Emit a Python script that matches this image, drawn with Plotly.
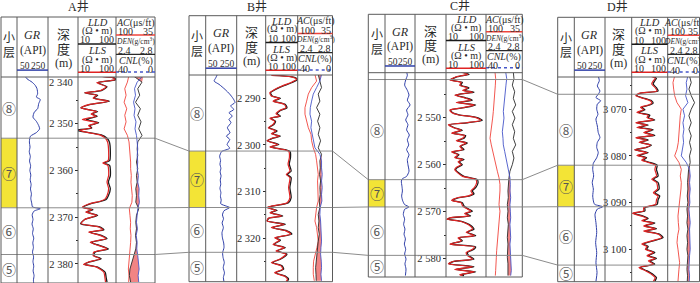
import numpy as np
import plotly.graph_objects as go

W, H = 700, 283

# ======================= DATA =======================
well_names = ["A井", "B井", "C井", "D井"]

# ---- Well A ----
A_gr_depth = [2339.6, 2340.4, 2341.1, 2341.8, 2342.5, 2343.6, 2344.3, 2344.8, 2345.7, 2346.8,
              2347.5, 2348.6, 2349.5, 2350.4, 2351.1, 2351.9, 2352.7, 2353.9, 2355, 2356,
              2357, 2358, 2359, 2360, 2361, 2362, 2363, 2364, 2365, 2366,
              2367, 2367.8, 2368.2, 2368.7, 2369.5, 2370.5, 2371.5, 2372.5, 2373.5, 2374.5,
              2375.5, 2376.5, 2377.5, 2378.5, 2379.5, 2380.5, 2381.5, 2382.5, 2383.5, 2384.2]
A_gr = [97, 115, 147, 168, 179, 183, 175, 200, 190, 183,
        162, 153, 175, 190, 196, 175, 136, 130, 134, 129,
        136, 131, 138, 133, 139, 135, 141, 137, 143, 139,
        145, 150, 200, 160, 148, 153, 147, 155, 150, 158,
        152, 156, 150, 157, 153, 158, 154, 160, 156, 158]
A_rt_depth = [2339.6, 2340.2, 2340.6, 2341.2, 2342.1, 2342.9, 2343.4, 2343.9, 2344.5, 2345.2,
              2345.9, 2346.6, 2347.4, 2347.9, 2348.4, 2349.1, 2349.8, 2350.4, 2350.9, 2351.4,
              2351.8, 2352.4, 2353.1, 2353.9, 2356.1, 2357.9, 2358.4, 2358.9, 2361.1, 2362.5,
              2363.9, 2365.4, 2366.2, 2366.6, 2367.2, 2367.9, 2368.4, 2368.9, 2369.6, 2370.5,
              2371.4, 2372.1, 2372.7, 2373.2, 2373.9, 2374.6, 2375.4, 2375.9, 2376.8, 2377.5,
              2378.2, 2378.9, 2379.6, 2380.1, 2380.7, 2381.8, 2382.9, 2383.9]
A_lld = [13.5, 90, 98, 33, 58, 41, 15, 33, 26, 67,
         20, 12, 33, 23, 32, 16.5, 35, 20, 23, 8.1,
         16.5, 41, 58, 67, 71, 68, 48, 68, 71, 63,
         71, 63, 55, 41, 20, 13.5, 24.6, 16.5, 33, 15,
         11.7, 37, 48, 20, 41, 58, 22, 32, 63, 28,
         26, 41, 20, 15, 33, 52, 55, 58]
A_lls = [13, 85, 92, 31, 55, 39, 15, 31, 25, 63,
         19, 12, 31, 22, 30, 13, 33, 19, 22, 11,
         16, 38, 52, 60, 64, 62, 45, 61, 64, 58,
         64, 58, 50, 38, 19, 13, 23, 16, 31, 15,
         12, 35, 45, 19, 38, 54, 21, 30, 58, 26,
         25, 38, 19, 14, 31, 48, 51, 53]
A_por_depth = [2339.6, 2341.1, 2342.5, 2343.9, 2345.4, 2346.8, 2348.2, 2349.6, 2351.1, 2352.5,
               2353.9, 2355.4, 2356.8, 2358.2, 2359.6, 2361.1, 2362.5, 2363.9, 2365.4, 2366.8,
               2368.2, 2369.6, 2371.1, 2372.5, 2373.9, 2375.4, 2376.8, 2378.2, 2379.6, 2381.1,
               2382.5, 2383.9]
A_ac = [78.3, 81.0, 85.4, 83.2, 86.5, 82.1, 85.4, 83.2, 86.5, 81.0,
        78.3, 77.2, 76.7, 75.6, 75.6, 74.5, 75.1, 73.5, 72.9, 73.5,
        77.8, 76.7, 75.6, 76.2, 75.1, 75.6, 76.7, 77.8, 78.9, 79.4,
        78.3, 78.9]
A_den = [2.567, 2.667, 2.623, 2.643, 2.600, 2.650, 2.623, 2.657, 2.633, 2.667,
         2.623, 2.617, 2.623, 2.610, 2.623, 2.610, 2.617, 2.603, 2.610, 2.603,
         2.633, 2.610, 2.603, 2.610, 2.600, 2.610, 2.603, 2.583, 2.557, 2.543,
         2.537, 2.550]
A_cnl = [11.7, 18.3, 21.0, 20.0, 22.0, 20.5, 21.5, 19.5, 20.5, 19.0,
         18.3, 17.7, 18.3, 17.7, 18.3, 17.0, 17.7, 16.3, 16.7, 16.0,
         17.7, 18.3, 19.0, 18.0, 19.3, 18.3, 18.7, 17.7, 17.0, 16.3,
         17.3, 16.7]
A_depth_ticks = [2340, 2350, 2360, 2370, 2380]
A_minor_ticks = [2345, 2355, 2365, 2375]
A_bound_depth = [2353.1, 2368.0, 2378.0]
A_bound_key = ["8/7", "7/6", "6/5"]
A_layers = ["⑧", "⑦", "⑥", "⑤"]

# ---- Well B ----
B_gr_depth = [2284.9, 2285.6, 2286.3, 2287.0, 2288.1, 2289.1, 2290.0, 2290.9, 2291.6, 2292.4,
              2293.1, 2293.8, 2294.5, 2295.2, 2296.3, 2297.4, 2298.1, 2298.8, 2299.9, 2300.7,
              2301.4, 2302.4, 2303.3, 2304.1, 2305.0, 2305.8, 2306.6, 2307.5, 2308.4, 2309.3,
              2310.2, 2311.0, 2311.8, 2312.6, 2313.1, 2313.4, 2314.1, 2315.0, 2315.8, 2316.7,
              2317.7, 2318.8, 2319.9, 2321.0, 2322.0, 2323.1, 2324.1, 2325.2, 2326.3, 2327.4,
              2328.4, 2329.3]
B_gr = [125, 115, 104, 136, 175, 205, 226, 239, 211, 231,
        200, 222, 200, 213, 190, 207, 183, 205, 188, 205,
        153, 140, 146, 142, 148, 143, 149, 144, 147, 142,
        148, 145, 150, 147, 183, 205, 168, 158, 165, 156,
        164, 155, 158, 166, 168, 159, 162, 170, 163, 171,
        164, 168]
B_rt_depth = [2285.1, 2285.4, 2285.9, 2286.6, 2287.4, 2288.1, 2288.8, 2289.5, 2290.0, 2290.6,
              2291.3, 2292.0, 2292.6, 2293.3, 2293.8, 2294.3, 2294.9, 2295.6, 2296.3, 2297.0,
              2297.6, 2298.1, 2298.6, 2299.1, 2299.9, 2300.4, 2301.0, 2301.4, 2302.7, 2304.1,
              2305.6, 2306.3, 2307.0, 2309.1, 2311.3, 2312.4, 2313.1, 2313.4, 2314.0, 2314.5,
              2315.2, 2315.7, 2316.3, 2317.0, 2317.7, 2318.4, 2319.1, 2319.9, 2320.4, 2321.3,
              2322.0, 2322.7, 2323.4, 2324.5, 2325.2, 2325.9, 2326.6, 2327.4, 2328.1, 2328.8,
              2329.3]
B_lld = [16.0, 68, 99, 68, 34, 20.2, 14.2, 16.0, 28.8, 18.0,
         41.0, 46.1, 28.8, 22.7, 28.8, 14.2, 20.2, 18.0, 12.6, 22.7,
         16.0, 28.8, 16.0, 11.2, 25.6, 14.2, 41.0, 58.3, 59.5, 54.5,
         62.5, 47.2, 62.5, 56.9, 62.5, 51.8, 16.0, 11.2, 22.7, 14.2,
         34.0, 12.6, 11.2, 41.0, 16.0, 46.1, 65.6, 20.2, 28.8, 18.0,
         41.0, 22.7, 46.1, 28.8, 16.0, 32.4, 36.4, 20.2, 41.0, 51.8,
         46.1]
B_lls = [15, 62, 92, 62, 31, 19, 13.5, 15, 27, 17,
         38, 43, 27, 21, 27, 13.5, 19, 17, 12, 21,
         15, 27, 15, 11, 24, 13.5, 38, 53, 55, 50,
         57, 44, 57, 52, 57, 47, 15, 11, 21, 13.5,
         31, 12, 11, 38, 15, 43, 60, 19, 27, 17,
         38, 21, 43, 27, 15, 30, 34, 19, 38, 48,
         43]
B_por_depth = [2284.9, 2286.3, 2287.7, 2289.1, 2290.6, 2292.0, 2293.4, 2294.9, 2296.3, 2297.7,
               2299.1, 2300.6, 2302.0, 2303.4, 2304.9, 2306.3, 2307.7, 2309.1, 2310.6, 2312.0,
               2313.4, 2314.9, 2316.3, 2317.7, 2319.1, 2320.6, 2322.0, 2323.4, 2324.9, 2326.3,
               2327.7, 2329.1]
B_ac = [67.8, 64.7, 74.0, 80.2, 83.3, 86.4, 86.4, 83.3, 80.2, 75.2,
        74.0, 70.9, 66.6, 64.7, 62.9, 61.6, 62.9, 62.9, 61.6, 61.6,
        64.7, 66.6, 67.8, 64.7, 62.9, 61.6, 64.1, 67.8, 70.3, 70.9,
        70.9, 69.0]
B_den = [2.636, 2.655, 2.674, 2.636, 2.655, 2.617, 2.655, 2.629, 2.655, 2.636,
         2.663, 2.636, 2.674, 2.655, 2.659, 2.651, 2.663, 2.655, 2.659, 2.648,
         2.655, 2.636, 2.644, 2.636, 2.648, 2.636, 2.629, 2.621, 2.613, 2.606,
         2.610, 2.613]
B_cnl = [12.6, 14.5, 18.3, 22.1, 24.0, 25.5, 25.9, 24.0, 24.8, 23.2,
         22.1, 20.2, 14.5, 12.6, 12.6, 11.8, 12.6, 11.8, 12.6, 12.2,
         14.1, 14.5, 13.7, 13.3, 13.3, 12.6, 13.3, 13.7, 12.9, 12.6,
         13.3, 12.6]
B_depth_ticks = [2290, 2300, 2310, 2320]
B_minor_ticks = [2295, 2305, 2315, 2325]
B_bound_depth = [2301.3, 2313.4, 2323.0]
B_bound_key = ["8/7", "7/6", "6/5"]
B_layers = ["⑧", "⑦", "⑥", "⑤"]

# ---- Well C ----
C_gr_depth = [2540.3, 2541.0, 2542.0, 2543.1, 2544.2, 2545.2, 2546.3, 2547.3, 2548.4, 2549.4,
              2550.5, 2551.5, 2552.6, 2553.7, 2554.7, 2555.8, 2556.8, 2557.9, 2558.9, 2560.0,
              2561.4, 2562.5, 2563.0, 2563.5, 2564.6, 2565.6, 2566.7, 2567.7, 2568.5, 2569.0,
              2569.5, 2570.6, 2571.6, 2572.7, 2573.7, 2574.8, 2575.8, 2576.9, 2578.0, 2579.0,
              2580.1, 2581.1, 2582.2, 2583.6]
C_gr = [194, 199, 188, 181, 199, 210, 199, 217, 194, 203,
        188, 203, 194, 212, 199, 208, 194, 210, 199, 203,
        210, 194, 166, 159, 163, 166, 161, 168, 181, 210,
        181, 172, 181, 174, 183, 177, 186, 179, 188, 181,
        190, 183, 190, 186]
C_rt_depth = [2540.3, 2540.8, 2541.3, 2542.0, 2542.5, 2543.1, 2543.7, 2544.2, 2544.6, 2545.2,
              2545.8, 2546.3, 2546.8, 2547.3, 2547.9, 2548.4, 2548.9, 2549.4, 2550.0, 2550.6,
              2551.1, 2551.5, 2552.1, 2552.7, 2553.3, 2553.8, 2554.4, 2554.9, 2555.4, 2556.1,
              2556.8, 2557.3, 2557.9, 2558.5, 2558.9, 2559.4, 2560.0, 2560.6, 2561.1, 2561.8,
              2562.5, 2563.2, 2563.9, 2564.9, 2565.6, 2566.2, 2566.7, 2567.0, 2567.6, 2568.1,
              2568.8, 2569.3, 2569.9, 2570.4, 2570.9, 2571.3, 2571.6, 2572.1, 2572.7, 2573.2,
              2573.7, 2574.4, 2575.1, 2575.6, 2576.2, 2576.9, 2577.5, 2578.0, 2578.7, 2579.4,
              2580.1, 2580.6, 2581.1, 2581.7, 2582.3, 2582.8, 2583.4, 2583.6]
C_lld = [23.3, 37.6, 19.2, 13.1, 25.6, 23.3, 37.6, 28.2, 50.1, 17.4,
         31.0, 45.5, 19.2, 55.2, 28.2, 13.1, 14.4, 21.1, 60.7, 80.8,
         34.1, 11.9, 15.8, 25.6, 14.4, 31.0, 28.2, 19.2, 34.1, 23.3,
         28.2, 14.4, 21.1, 17.4, 28.2, 21.1, 25.6, 19.2, 17.4, 21.1,
         28.2, 60.7, 63.1, 55.2, 45.5, 50.1, 37.6, 21.1, 14.4, 25.6,
         28.2, 34.1, 45.5, 31.0, 41.4, 13.1, 10.8, 25.6, 37.6, 45.5,
         50.1, 34.1, 55.2, 21.1, 25.6, 13.1, 55.2, 50.1, 34.1, 37.6,
         50.1, 15.8, 11.9, 50.1, 17.4, 55.2, 23.3, 28.2]
C_lls = [22, 35, 18, 12.5, 24, 22, 35, 26, 46, 16.5,
         29, 42, 18, 51, 26, 12.5, 13.8, 20, 56, 74,
         32, 11.5, 15, 24, 13.8, 29, 26, 18, 32, 22,
         26, 13.8, 20, 16.5, 26, 20, 24, 18, 16.5, 20,
         26, 56, 58, 51, 42, 46, 35, 20, 13.8, 24,
         26, 32, 42, 29, 38, 12.5, 10.5, 24, 35, 42,
         46, 32, 51, 20, 24, 12.5, 51, 46, 32, 35,
         46, 15, 11.5, 46, 16.5, 51, 22, 26]
C_por_depth = [2540.3, 2541.7, 2543.1, 2544.5, 2545.9, 2547.3, 2548.7, 2550.1, 2551.5, 2553.0,
               2554.4, 2555.8, 2557.2, 2558.6, 2560.0, 2561.4, 2562.8, 2564.2, 2565.6, 2567.0,
               2568.5, 2569.9, 2571.3, 2572.7, 2574.1, 2575.5, 2576.9, 2578.3, 2579.7, 2581.1,
               2582.5, 2583.6]
C_ac = [83.9, 82.7, 83.3, 83.9, 85.1, 85.7, 86.9, 88.1, 89.3, 91.7,
        92.8, 90.5, 88.1, 85.7, 82.7, 79.7, 76.7, 75.0, 75.0, 75.6,
        76.7, 75.0, 76.1, 76.7, 78.5, 79.1, 79.7, 80.9, 81.5, 82.7,
        82.7, 83.3]
C_den = [2.701, 2.708, 2.690, 2.716, 2.701, 2.727, 2.690, 2.719, 2.690, 2.716,
         2.701, 2.727, 2.690, 2.708, 2.690, 2.664, 2.653, 2.646, 2.642, 2.646,
         2.635, 2.642, 2.635, 2.646, 2.642, 2.635, 2.642, 2.639, 2.635, 2.642,
         2.639, 2.642]
C_cnl = [18.3, 17.2, 18.0, 18.7, 19.4, 20.2, 20.9, 20.2, 21.3, 22.0,
         21.3, 20.9, 19.4, 18.0, 17.2, 15.8, 13.6, 13.2, 13.6, 12.8,
         13.6, 13.2, 12.8, 13.6, 13.2, 12.8, 13.6, 13.2, 12.8, 12.5,
         12.1, 12.8]
C_depth_ticks = [2550, 2560, 2570, 2580]
C_minor_ticks = [2545, 2555, 2565, 2575]
C_bound_depth = [2541.9, 2563.2, 2569.0, 2579.3]
C_bound_key = ["9/8", "8/7", "7/6", "6/5"]
C_layers = ["", "⑧", "⑦", "⑥", "⑤"]

# ---- Well D ----
D_gr_depth = [3062.9, 3063.9, 3065.0, 3066.1, 3066.8, 3067.5, 3068.2, 3068.9, 3070.0, 3071.1,
              3072.1, 3073.6, 3075.0, 3076.1, 3077.1, 3078.2, 3079.3, 3080.4, 3081.6, 3082.9,
              3084.3, 3085.7, 3087.1, 3088.6, 3089.9, 3090.4, 3090.9, 3091.4, 3092.5, 3094.3,
              3096.4, 3098.6, 3100.7, 3102.9, 3105.0, 3106.9]
D_gr = [206, 213, 200, 217, 206, 191, 222, 200, 196, 204,
        191, 200, 206, 217, 200, 196, 206, 196, 174, 170,
        176, 167, 174, 170, 176, 183, 235, 200, 185, 191,
        196, 189, 196, 191, 198, 191]
D_rt_depth = [3062.9, 3063.4, 3063.9, 3064.6, 3065.4, 3066.1, 3066.6, 3067.1, 3067.7, 3068.2,
              3068.7, 3069.1, 3069.6, 3070.1, 3070.7, 3071.3, 3071.8, 3072.3, 3072.9, 3073.4,
              3073.9, 3074.4, 3075.0, 3075.6, 3076.1, 3076.6, 3077.1, 3077.7, 3078.2, 3078.7,
              3079.3, 3079.9, 3080.4, 3080.9, 3081.4, 3082.0, 3082.9, 3084.3, 3085.0, 3085.7,
              3087.1, 3087.9, 3088.6, 3089.4, 3090.4, 3091.1, 3091.8, 3092.3, 3092.9, 3093.4,
              3093.9, 3094.4, 3095.0, 3095.6, 3096.1, 3096.8, 3097.5, 3098.2, 3098.9, 3099.4,
              3100.0, 3100.7, 3101.4, 3102.0, 3102.5, 3103.2, 3103.9, 3104.6, 3105.4, 3106.1,
              3106.9]
D_lld = [35.5, 48.7, 43.8, 39.4, 48.7, 54.1, 17.0, 13.7, 23.3, 35.5,
         39.4, 31.9, 18.9, 23.3, 15.3, 31.9, 28.7, 43.8, 13.7, 28.7,
         15.3, 39.4, 23.3, 43.8, 13.7, 28.7, 17.0, 35.5, 25.9, 12.4,
         28.7, 15.3, 25.9, 20.9, 31.9, 50.9, 48.7, 54.1, 39.4, 54.1,
         57.7, 43.8, 60.1, 54.1, 50.9, 23.3, 23.3, 11.1, 20.9, 28.7,
         20.9, 43.8, 23.3, 48.7, 23.3, 60.1, 74.3, 39.4, 20.9, 28.7,
         25.9, 43.8, 28.7, 48.7, 31.9, 43.8, 17.0, 25.9, 39.4, 48.7,
         43.8]
D_lls = [33, 45, 40, 36, 45, 50, 16, 13, 21.5, 33,
         36, 29, 17.5, 21.5, 14, 29, 26.5, 40, 13, 26.5,
         14, 36, 21.5, 40, 13, 26.5, 16, 33, 24, 12,
         26.5, 14, 24, 19, 29, 46, 44, 49, 36, 49,
         52, 40, 54, 49, 46, 21.5, 21.5, 10.5, 19, 26.5,
         19, 40, 21.5, 45, 21.5, 55, 68, 36, 19, 26.5,
         24, 40, 26.5, 45, 29, 40, 16, 24, 36, 45,
         40]
D_por_depth = [3062.9, 3064.3, 3065.7, 3067.1, 3068.6, 3070.0, 3071.4, 3072.9, 3074.3, 3075.7,
               3077.1, 3078.6, 3080.0, 3081.4, 3082.9, 3084.3, 3085.7, 3087.1, 3088.6, 3090.0,
               3091.4, 3092.9, 3094.3, 3095.7, 3097.1, 3098.6, 3100.0, 3101.4, 3102.9, 3104.3,
               3105.7, 3106.9]
D_ac = [85.8, 89.2, 87.8, 85.8, 81.0, 72.2, 74.3, 75.6, 75.6, 77.0,
        78.3, 81.0, 85.8, 77.0, 72.2, 74.3, 72.2, 72.9, 74.3, 75.6,
        77.0, 79.0, 78.3, 77.0, 79.7, 81.0, 79.0, 77.0, 75.6, 77.0,
        78.3, 79.0]
D_den = [2.675, 2.696, 2.667, 2.696, 2.738, 2.696, 2.667, 2.696, 2.667, 2.696,
         2.675, 2.696, 2.675, 2.683, 2.663, 2.654, 2.650, 2.654, 2.646, 2.654,
         2.642, 2.650, 2.642, 2.654, 2.642, 2.650, 2.642, 2.654, 2.646, 2.642,
         2.650, 2.646]
D_cnl = [14.6, 16.7, 15.8, 17.5, 14.6, 20.8, 18.8, 20.8, 19.6, 20.8,
         20.0, 21.7, 22.9, 16.7, 12.5, 11.7, 12.5, 11.7, 12.5, 12.1,
         13.3, 12.5, 11.7, 12.5, 12.1, 12.5, 11.7, 12.5, 12.9, 13.3,
         12.5, 12.9]
D_depth_ticks = [3070, 3080, 3090, 3100]
D_minor_ticks = [3065, 3075, 3085, 3095, 3105]
D_bound_depth = [3066.8, 3082.0, 3090.9, 3103.4]
D_bound_key = ["9/8", "8/7", "7/6", "6/5"]
D_layers = ["", "⑧", "⑦", "⑥", "⑤"]

# curve scales (header legends)
GR_RANGE = [50, 250]
RT_RANGE = [10, 100]
AC_RANGE = [100, 35]
DEN_RANGE = [2.4, 2.8]
CNL_RANGE = [40, 0]

well_data = [
    dict(gr_d=A_gr_depth, gr=A_gr, rt_d=A_rt_depth, lld=A_lld, lls=A_lls, por_d=A_por_depth,
         ac=A_ac, den=A_den, cnl=A_cnl, ticks=A_depth_ticks, minor=A_minor_ticks,
         bounds=A_bound_depth, bkeys=A_bound_key, layers=A_layers),
    dict(gr_d=B_gr_depth, gr=B_gr, rt_d=B_rt_depth, lld=B_lld, lls=B_lls, por_d=B_por_depth,
         ac=B_ac, den=B_den, cnl=B_cnl, ticks=B_depth_ticks, minor=B_minor_ticks,
         bounds=B_bound_depth, bkeys=B_bound_key, layers=B_layers),
    dict(gr_d=C_gr_depth, gr=C_gr, rt_d=C_rt_depth, lld=C_lld, lls=C_lls, por_d=C_por_depth,
         ac=C_ac, den=C_den, cnl=C_cnl, ticks=C_depth_ticks, minor=C_minor_ticks,
         bounds=C_bound_depth, bkeys=C_bound_key, layers=C_layers),
    dict(gr_d=D_gr_depth, gr=D_gr, rt_d=D_rt_depth, lld=D_lld, lls=D_lls, por_d=D_por_depth,
         ac=D_ac, den=D_den, cnl=D_cnl, ticks=D_depth_ticks, minor=D_minor_ticks,
         bounds=D_bound_depth, bkeys=D_bound_key, layers=D_layers),
]

for d in well_data:
    assert len(d["gr_d"]) == len(d["gr"])
    assert len(d["rt_d"]) == len(d["lld"]) == len(d["lls"])
    assert len(d["por_d"]) == len(d["ac"]) == len(d["den"]) == len(d["cnl"])

# ======================= LAYOUT GEOMETRY (pixels) =======================
geo = [
    dict(cols=[1, 17, 48, 78, 116, 155], top=17, hb=77, bot=283, dtop=2340.0, dbot=2384.1, tx=78, ty=7),
    dict(cols=[189, 205.7, 236.7, 265.7, 297.7, 332.5], top=15.7, hb=75, bot=281.7, dtop=2285.0, dbot=2329.3, tx=257, ty=7),
    dict(cols=[368.3, 385, 415, 446, 486, 522.3], top=14.3, hb=72.7, bot=277, dtop=2540.45, dbot=2583.9, tx=460, ty=6),
    dict(cols=[557.7, 574.3, 605, 631.7, 667.7, 699.5], top=17.3, hb=77, bot=281.7, dtop=3063.1, dbot=3106.96, tx=617, ty=7),
]

SERIF = "Liberation Serif, Times New Roman, serif"
CJK = "Noto Sans CJK SC, sans-serif"
MIX = "Liberation Serif, Noto Sans CJK SC, serif"
TXT = "#2b2b2b"
FRAME = "#5a5a5a"
BOUND = "#8c8c8c"
GR_C = "#2f3fa8"
LLD_C = "#1a1a1a"
LLS_C = "#e02424"
AC_C = "#f0443c"
DEN_C = "#2a2a2a"
CNL_C = "#4656c8"
FILL_C = "rgba(238,110,110,0.85)"
YEL = "#f3e436"

def fx(px):
    return px / W

def fy(py):
    return 1 - py / H

def d2py(g, d):
    return g["hb"] + (d - g["dtop"]) * (g["bot"] - g["hb"]) / (g["dbot"] - g["dtop"])

shapes = []
annotations = []

def seg(x0, y0, x1, y1, color=FRAME, width=1, dash=None):
    ln = dict(color=color, width=width)
    if dash:
        ln["dash"] = dash
    shapes.append(dict(type="line", xref="paper", yref="paper",
                       x0=fx(x0), y0=fy(y0), x1=fx(x1), y1=fy(y1), line=ln))

def rect(x0, y0, x1, y1, fill):
    shapes.append(dict(type="rect", xref="paper", yref="paper",
                       x0=fx(x0), y0=fy(y0), x1=fx(x1), y1=fy(y1),
                       line=dict(width=0), fillcolor=fill))

def txt(x, y, text, size, family=SERIF, xanchor="center", color=TXT):
    annotations.append(dict(x=fx(x), y=fy(y), xref="paper", yref="paper", text=text,
                            showarrow=False, xanchor=xanchor, yanchor="middle",
                            borderpad=0, font=dict(family=family, size=size, color=color)))

fig = go.Figure()
layout = dict(width=W, height=H, margin=dict(l=0, r=0, t=0, b=0),
              paper_bgcolor="white", plot_bgcolor="rgba(0,0,0,0)", showlegend=False)

def fmt_depth(v):
    return f"{v:,}".replace(",", " ")

xi = 0
for w, (g, dat) in enumerate(zip(geo, well_data)):
    c = g["cols"]
    ysuf = "" if w == 0 else str(w + 1)
    yname = "y" + ysuf
    major = [t for t in dat["ticks"] if abs(t - g["dtop"]) > 0.5]
    layout["yaxis" + ysuf] = dict(
        domain=[fy(g["bot"]), fy(g["hb"])], range=[g["dbot"], g["dtop"]],
        anchor="free", position=fx(c[3]), side="left",
        showgrid=False, zeroline=False, showline=False,
        ticks="outside", ticklen=3, tickwidth=1, tickcolor=TXT,
        tickmode="array", tickvals=major, ticktext=[fmt_depth(t) for t in major],
        tickfont=dict(family=SERIF, size=10.5, color=TXT),
        minor=dict(tickmode="array", tickvals=dat["minor"], ticks="outside", ticklen=2, tickcolor=TXT),
        fixedrange=True)
    for t in dat["ticks"]:
        if abs(t - g["dtop"]) <= 0.5:
            txt(c[3] - 4, g["hb"] + 5, fmt_depth(t), 10.5, xanchor="right")

    specs = [("gr", c[1], c[2], GR_RANGE, "linear"),
             ("rt", c[3], c[4], [np.log10(RT_RANGE[0]), np.log10(RT_RANGE[1])], "log"),
             ("ac", c[4], c[5], AC_RANGE, "linear"),
             ("den", c[4], c[5], DEN_RANGE, "linear"),
             ("cnl", c[4], c[5], CNL_RANGE, "linear")]
    xn = {}
    for key, a, b, rng, typ in specs:
        xi += 1
        xsuf = "" if xi == 1 else str(xi)
        layout["xaxis" + xsuf] = dict(domain=[fx(a), fx(b)], range=rng, type=typ,
                                      visible=False, anchor=yname, fixedrange=True)
        xn[key] = "x" + xsuf

    def line_trace(x, y, xa, color, width, shape="linear"):
        ln = dict(color=color, width=width, shape=shape)
        if shape == "spline":
            ln["smoothing"] = 0.6
        fig.add_trace(go.Scatter(x=x, y=y, xaxis=xa, yaxis=yname, mode="lines",
                                 line=ln, hoverinfo="skip"))

    # GR
    line_trace(dat["gr"], dat["gr_d"], xn["gr"], GR_C, 1.0, "spline")
    # resistivity
    line_trace(dat["lld"], dat["rt_d"], xn["rt"], LLD_C, 1.3, "spline")
    line_trace(dat["lls"], dat["rt_d"], xn["rt"], LLS_C, 1.2, "spline")
    # AC
    line_trace(dat["ac"], dat["por_d"], xn["ac"], AC_C, 0.9)
    # density-neutron crossover shading (neutron expressed on the density scale)
    den = np.array(dat["den"], dtype=float)
    cnl = np.array(dat["cnl"], dtype=float)
    frac = (CNL_RANGE[0] - cnl) / (CNL_RANGE[0] - CNL_RANGE[1])
    cnl_on_den = DEN_RANGE[0] + frac * (DEN_RANGE[1] - DEN_RANGE[0])
    fig.add_trace(go.Scatter(x=den, y=dat["por_d"], xaxis=xn["den"], yaxis=yname, mode="lines",
                             line=dict(width=0, color="rgba(0,0,0,0)"), hoverinfo="skip"))
    fig.add_trace(go.Scatter(x=np.maximum(den, cnl_on_den), y=dat["por_d"], xaxis=xn["den"],
                             yaxis=yname, mode="lines", line=dict(width=0, color="rgba(0,0,0,0)"),
                             fill="tonextx", fillcolor=FILL_C, hoverinfo="skip"))
    line_trace(dat["den"], dat["por_d"], xn["den"], DEN_C, 0.9)
    line_trace(dat["cnl"], dat["por_d"], xn["cnl"], CNL_C, 0.9)

    # ---- frame & layers ----
    tops = [g["hb"]] + [d2py(g, b) for b in dat["bounds"]] + [g["bot"]]
    for k, name in enumerate(dat["layers"]):
        if name == "⑦":
            rect(c[0], tops[k], c[1], tops[k + 1], YEL)
    for b in dat["bounds"]:
        py = d2py(g, b)
        seg(c[0], py, c[5], py, BOUND, 1)
    for k, name in enumerate(dat["layers"]):
        if name:
            txt((c[0] + c[1]) / 2, min((tops[k] + tops[k + 1]) / 2, g["bot"] - 8), name, 14, CJK, color="#555555")
    seg(c[0], g["top"], c[5], g["top"])
    seg(c[0], g["bot"], c[5], g["bot"])
    seg(c[0], g["hb"], c[5], g["hb"])
    for cx in c:
        seg(cx, g["top"], cx, g["bot"])

    # ---- header ----
    T = g["top"]
    Hh = g["hb"] - g["top"]
    mid = lambda a, b: (a + b) / 2
    txt(mid(c[0], c[1]), T + 0.33 * Hh, "小", 12, CJK)
    txt(mid(c[0], c[1]), T + 0.58 * Hh, "层", 12, CJK)
    txt(mid(c[1], c[2]), T + 0.30 * Hh, "<i>GR</i>", 12)
    txt(mid(c[1], c[2]), T + 0.55 * Hh, "(API)", 11.5)
    txt(c[1] + 1.5, T + 0.815 * Hh, str(GR_RANGE[0]), 9.5, xanchor="left")
    txt(c[2] - 1, T + 0.815 * Hh, str(GR_RANGE[1]), 9.5, xanchor="right")
    seg(c[1], T + 0.885 * Hh, c[2], T + 0.885 * Hh, GR_C, 1.5)
    txt(mid(c[2], c[3]), T + 0.27 * Hh, "深", 13, CJK)
    txt(mid(c[2], c[3]), T + 0.52 * Hh, "度", 13, CJK)
    txt(mid(c[2], c[3]), T + 0.77 * Hh, "(m)", 12)
    txt(mid(c[3], c[4]), T + 0.095 * Hh, "<i>LLD</i>", 10.5)
    txt(mid(c[3], c[4]), T + 0.228 * Hh, "(Ω • m)", 10)
    txt(c[3] + 1, T + 0.383 * Hh, str(RT_RANGE[0]), 10, xanchor="left")
    txt(c[4] - 1, T + 0.383 * Hh, str(RT_RANGE[1]), 10, xanchor="right")
    seg(c[3], T + 0.45 * Hh, c[4], T + 0.45 * Hh, LLD_C, 1.5)
    txt(mid(c[3], c[4]), T + 0.562 * Hh, "<i>LLS</i>", 10.5)
    txt(mid(c[3], c[4]), T + 0.717 * Hh, "(Ω • m)", 10)
    txt(c[3] + 1, T + 0.862 * Hh, str(RT_RANGE[0]), 10, xanchor="left")
    txt(c[4] - 1, T + 0.862 * Hh, str(RT_RANGE[1]), 10, xanchor="right")
    seg(c[3], T + 0.922 * Hh, c[4], T + 0.922 * Hh, LLS_C, 1.5)
    txt(mid(c[4], c[5]), T + 0.095 * Hh, "<i>AC</i>(μs/ft)", 10)
    txt(c[4] + 1, T + 0.245 * Hh, str(AC_RANGE[0]), 10, xanchor="left")
    txt(c[5] - 1, T + 0.245 * Hh, str(AC_RANGE[1]), 10, xanchor="right")
    seg(c[4], T + 0.30 * Hh, c[5], T + 0.30 * Hh, AC_C, 1.5)
    txt(mid(c[4], c[5]), T + 0.40 * Hh, "<i>DEN</i>(g/cm<sup>3</sup>)", 7.5)
    txt(c[4] + 1, T + 0.55 * Hh, str(DEN_RANGE[0]), 10, xanchor="left")
    txt(c[5] - 1, T + 0.55 * Hh, str(DEN_RANGE[1]), 10, xanchor="right")
    seg(c[4], T + 0.622 * Hh, c[5], T + 0.622 * Hh, DEN_C, 1.2)
    txt(mid(c[4], c[5]), T + 0.733 * Hh, "<i>CNL</i>(%)", 10)
    txt(c[4] + 1, T + 0.883 * Hh, str(CNL_RANGE[0]), 10, xanchor="left")
    txt(c[5] - 1, T + 0.883 * Hh, str(CNL_RANGE[1]), 10, xanchor="right")
    seg(c[4], T + 0.917 * Hh, c[5], T + 0.917 * Hh, CNL_C, 1.5, "dot")

    # title
    txt(g["tx"], g["ty"], well_names[w], 12, MIX)

# ---- correlation lines between neighbouring wells ----
for w in range(len(geo) - 1):
    g1, g2 = geo[w], geo[w + 1]
    d1, d2 = well_data[w], well_data[w + 1]
    for key, b1 in zip(d1["bkeys"], d1["bounds"]):
        if key in d2["bkeys"]:
            b2 = d2["bounds"][d2["bkeys"].index(key)]
            seg(g1["cols"][5], d2py(g1, b1), g2["cols"][0], d2py(g2, b2), BOUND, 1)

layout["shapes"] = shapes
layout["annotations"] = annotations
fig.update_layout(**layout)
fig.write_html("out.html",
               config={"displayModeBar": False, "staticPlot": True},
               post_script="document.body.style.margin='0';document.body.style.overflow='hidden';")
